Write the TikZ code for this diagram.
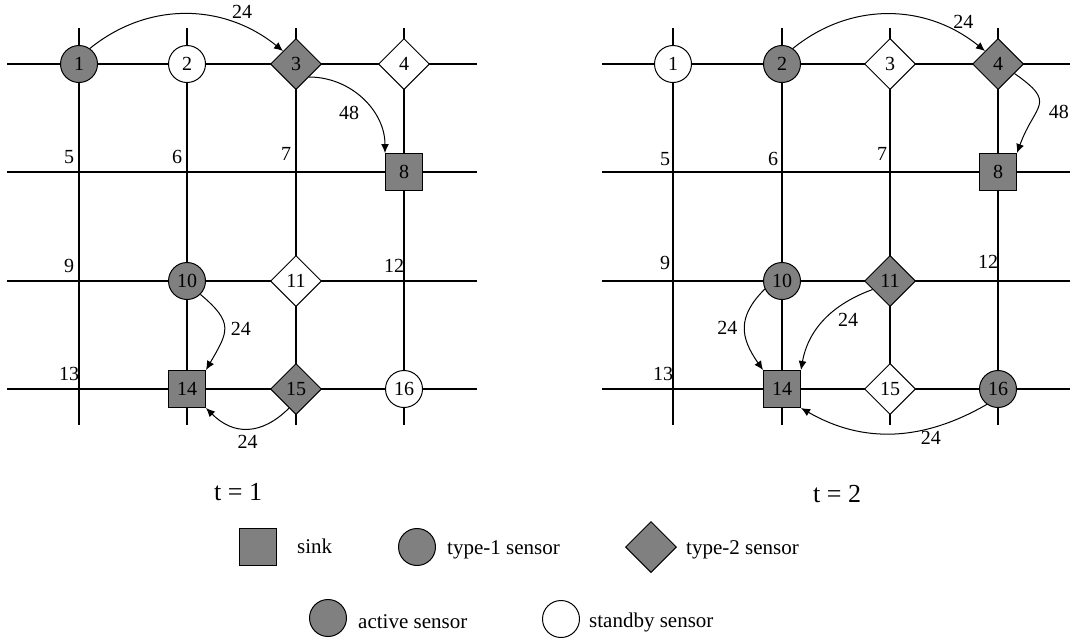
\documentclass[tikz,border=0pt]{standalone}
\usepackage{fontspec}
\setmainfont{Liberation Serif}
\usetikzlibrary{shapes.geometric, arrows.meta}

\tikzset{
  typeone/.style={circle, draw, line width=1pt, minimum size=37pt, inner sep=0pt},
  typetwo/.style={diamond, draw, line width=1pt, minimum size=51pt, inner sep=0pt},
  sinknode/.style={rectangle, draw, line width=1pt, minimum size=37pt, inner sep=0pt, fill=gray},
  active/.style={fill=gray},
  standby/.style={fill=white},
  flow/.style={-{Latex[length=9pt,width=8pt]}, line width=1pt},
  gridline/.style={line width=1.2pt},
  numlbl/.style={anchor=south, inner sep=0pt, xshift=-10pt, yshift=8pt},
  wlbl/.style={inner sep=2pt},
  keytext/.style={anchor=base west, inner sep=0pt, font=\fontsize{21}{24}\selectfont}
}

\begin{document}
\begin{tikzpicture}[x=1pt, y=1pt, font=\fontsize{20}{24}\selectfont]
\useasboundingbox (0,0) rectangle (1076,-641);

% left grid, t = 1
\draw[gridline] (7,-64) -- (477,-64);
\draw[gridline] (7,-172) -- (477,-172);
\draw[gridline] (7,-281) -- (477,-281);
\draw[gridline] (7,-389) -- (477,-389);
\draw[gridline] (79,-28) -- (79,-425);
\draw[gridline] (187,-28) -- (187,-425);
\draw[gridline] (296,-28) -- (296,-425);
\draw[gridline] (404,-28) -- (404,-425);

% right grid, t = 2
\draw[gridline] (602,-64) -- (1070,-64);
\draw[gridline] (602,-172) -- (1070,-172);
\draw[gridline] (602,-281) -- (1070,-281);
\draw[gridline] (602,-389) -- (1070,-389);
\draw[gridline] (673,-28) -- (673,-425);
\draw[gridline] (782,-28) -- (782,-425);
\draw[gridline] (890,-28) -- (890,-425);
\draw[gridline] (998,-28) -- (998,-425);

% empty crossings
\coordinate (c5) at (79,-172);
\coordinate (c6) at (187,-172);
\coordinate (c7) at (296,-172);
\coordinate (c9) at (79,-281);
\coordinate (c12) at (404,-281);
\coordinate (c13) at (79,-389);
\node[numlbl] at (c5) {5};
\node[numlbl] at (c6) {6};
\node[numlbl, yshift=3pt] at (c7) {7};
\node[numlbl] at (c9) {9};
\node[numlbl] at (c12) {12};
\node[numlbl] at (c13) {13};

\coordinate (d5) at (673,-172);
\coordinate (d6) at (782,-172);
\coordinate (d7) at (890,-172);
\coordinate (d9) at (673,-281);
\coordinate (d12) at (998,-281);
\coordinate (d13) at (673,-389);
\node[numlbl, xshift=2pt, yshift=-2pt] at (d5) {5};
\node[numlbl, xshift=1pt, yshift=-2pt] at (d6) {6};
\node[numlbl, xshift=2pt, yshift=3pt] at (d7) {7};
\node[numlbl, xshift=2pt, yshift=3pt] at (d9) {9};
\node[numlbl, yshift=4pt] at (d12) {12};
\node[numlbl] at (d13) {13};

% sensors at t = 1
\node[typeone, active] (n1) at (79,-64) {1};
\node[typeone, standby] (n2) at (187,-64) {2};
\node[typetwo, active] (n3) at (296,-64) {3};
\node[typetwo, standby] (n4) at (404,-64) {4};
\node[sinknode] (n8) at (404,-172) {8};
\node[typeone, active] (n10) at (187,-281) {10};
\node[typetwo, standby] (n11) at (296,-281) {11};
\node[sinknode] (n14) at (187,-389) {14};
\node[typetwo, active] (n15) at (296,-389) {15};
\node[typeone, standby] (n16) at (404,-389) {16};

% sensors at t = 2
\node[typeone, standby] (m1) at (673,-64) {1};
\node[typeone, active] (m2) at (782,-64) {2};
\node[typetwo, standby] (m3) at (890,-64) {3};
\node[typetwo, active] (m4) at (998,-64) {4};
\node[sinknode] (m8) at (998,-172) {8};
\node[typeone, active] (m10) at (782,-281) {10};
\node[typetwo, active] (m11) at (890,-281) {11};
\node[sinknode] (m14) at (782,-389) {14};
\node[typetwo, standby] (m15) at (890,-389) {15};
\node[typeone, active] (m16) at (998,-389) {16};

% flows at t = 1
\draw[flow] (n1.55) to[out=39, in=141] node[wlbl, pos=0.78, above=5pt] {24} (n3.north west);
\draw[flow] (n3.south east) to[out=0, in=90] node[wlbl, pos=0.65, left=12pt] {48} (n8.north west);
\draw[flow] (n10.south east) to[out=-40, in=60, looseness=1.5] node[wlbl, pos=0.5, right=4pt] {24} (n14.north east);
\draw[flow] (n15.250) to[out=-135, in=-45, looseness=1.2] node[wlbl, pos=0.5, below=4pt] {24} (n14.south east);

% flows at t = 2
\draw[flow] (m2.55) to[out=39, in=141] node[wlbl, pos=0.88, above=5pt] {24} (m4.north west);
\draw[flow] (m4.-30) to[out=-35, in=70, looseness=1.7] node[wlbl, pos=0.6, right=10pt] {48} (m8.north east);
\draw[flow] (m10.205) to[out=-135, in=125, looseness=1.25] node[wlbl, pos=0.5, left=5pt] {24} (m14.north west);
\draw[flow] (m11.206) to[out=200, in=80] node[wlbl, pos=0.5, right=11pt] {24} (m14.north east);
\draw[flow] (m16.234) to[out=-150, in=-30] node[wlbl, pos=0.3, below=1pt] {24} (m14.south east);

\node[anchor=base west, inner sep=0pt, font=\fontsize{26}{30}\selectfont] (tone) at (214,-500) {t = 1};
\node[anchor=base west, inner sep=0pt, font=\fontsize{26}{30}\selectfont] (ttwo) at (813,-502) {t = 2};

% legend
\node[sinknode] (keysink) at (258,-547) {};
\node[keytext] (keysinktext) at (297,-553) {sink};
\node[typeone, active] (keyone) at (417,-547) {};
\node[keytext] (keyonetext) at (447,-554) {type-1 sensor};
\node[typetwo, active] (keytwo) at (651,-547) {};
\node[keytext] (keytwotext) at (686,-554) {type-2 sensor};
\node[typeone, active] (keyactive) at (328,-618) {};
\node[keytext] (keyactivetext) at (358,-628) {active sensor};
\node[typeone, standby] (keystandby) at (561,-619) {};
\node[keytext] (keystandbytext) at (589,-627) {standby sensor};
\end{tikzpicture}
\end{document}
